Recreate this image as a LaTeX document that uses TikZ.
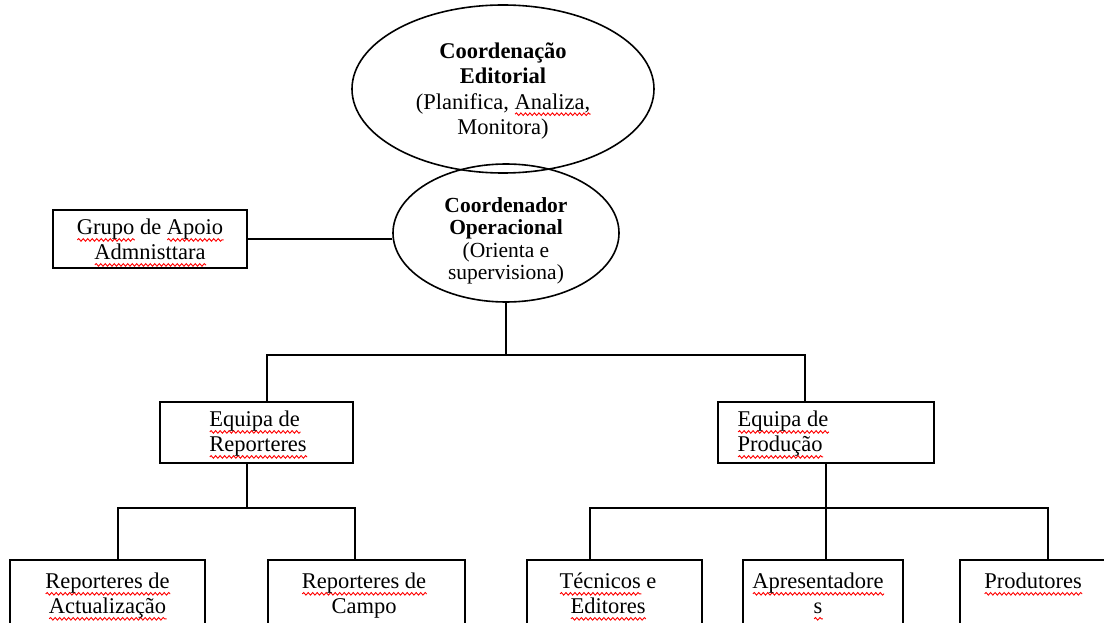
\documentclass[tikz,border=0pt]{standalone}
\usepackage{fontspec}
\setmainfont{Liberation Serif}
\usetikzlibrary{shapes.geometric,decorations.pathmorphing}
\newsavebox\sqbox
\newdimen\sqw
\newcommand\sq[1]{\sbox\sqbox{#1}\sqw=\wd\sqbox\rlap{\tikz[baseline=0pt,x=1pt,y=1pt]\draw[red,line width=0.9pt,decorate,decoration={snake,amplitude=1.3pt,segment length=4.5pt}] (0pt,-5pt) -- (\the\sqw,-5pt);}\usebox\sqbox}
\newcommand\firstln{\rule{0pt}{15pt}}
\tikzset{
  ln/.style={line width=1.6pt},
  boxst/.style={draw, rectangle, line width=2pt, inner sep=0pt},
  ell/.style={draw, ellipse, line width=1.6pt, inner sep=0pt},
  txt/.style={font=\fontsize{22.5}{25}\selectfont, align=center, inner sep=0pt},
}
\begin{document}
\begin{tikzpicture}[x=1pt,y=-1pt]
\useasboundingbox (0,0) rectangle (1104,623);
% top ellipses
\node[ell, minimum width=302pt, minimum height=168pt] (e1) at (503,89) {};
\node[txt, font=\fontsize{22.5}{25.5}\selectfont] (e1t) at (503,91)
  {\textbf{Coordenação}\\\textbf{Editorial}\\(Planifica, \sq{Analiza,}\\Monitora)};
\node[ell, minimum width=226pt, minimum height=138pt] (e2) at (506,233) {};
\node[txt, font=\fontsize{21.5}{22.5}\selectfont] (e2t) at (506,241)
  {\textbf{Coordenador}\\\textbf{Operacional}\\(Orienta e\\supervisiona)};
% side box
\node[boxst, minimum width=194pt, minimum height=58pt] (grupo) at (150,239) {};
\node[txt] (grupot) at (150,243) {\sq{Grupo} de \sq{Apoio}\\\sq{Admnisttara}};
% middle boxes
\node[boxst, minimum width=193pt, minimum height=61pt] (rep) at (256.5,432.5) {};
\node[txt, align=left] (rept) at (258,435) {\sq{Equipa de}\\\sq{Reporteres}};
\node[boxst, minimum width=216pt, minimum height=61pt] (prod) at (826,432.5) {};
\node[txt, align=left] (prodt) at (783,435) {\sq{Equipa de}\\\sq{Produção}};
% bottom boxes
\node[boxst, minimum width=195pt, minimum height=68pt] (b1) at (107.5,594) {};
\node[boxst, minimum width=197pt, minimum height=68pt] (b2) at (366.5,594) {};
\node[boxst, minimum width=175pt, minimum height=68pt] (b3) at (614.5,594) {};
\node[boxst, minimum width=160pt, minimum height=68pt] (b4) at (823,594) {};
\node[boxst, minimum width=146pt, minimum height=68pt] (b5) at (1033,594) {};
\node[txt, anchor=north] (b1t) at (107.5,573) {\firstln\sq{Reporteres de}\\\sq{Actualização}};
\node[txt, anchor=north] (b2t) at (364,573) {\firstln\sq{Reporteres de}\\Campo};
\node[txt, anchor=north] (b3t) at (608,573) {\firstln\sq{Técnicos} e\\\sq{Editores}};
\node[txt, anchor=north] (b4t) at (818,573) {\firstln\sq{Apresentadore}\\\sq{s}};
\node[txt, anchor=north] (b5t) at (1033,573) {\firstln\sq{Produtores}};
% connectors
\draw[ln] (grupo.east) -- (grupo.east -| e2.west);
\coordinate (j1) at (506,355);
\coordinate (hl) at (267,355);
\coordinate (hr) at (805,355);
\draw[ln] (e2.south) -- (j1);
\draw[ln] (rep.north -| hl) -- (hl) -- (hr) -- (prod.north -| hr);
\coordinate (rb) at (247,508);
\coordinate (l1) at (118,508);
\coordinate (l2) at (355,508);
\draw[ln] (rep.south -| rb) -- (rb);
\draw[ln] (b1.north -| l1) -- (l1) -- (l2) -- (b2.north -| l2);
\coordinate (r1) at (590,508);
\coordinate (r2) at (826,508);
\coordinate (r3) at (1048,508);
\draw[ln] (prod.south -| r2) -- (r2) -- (b4.north -| r2);
\draw[ln] (b3.north -| r1) -- (r1) -- (r3) -- (b5.north -| r3);
\end{tikzpicture}
\end{document}
